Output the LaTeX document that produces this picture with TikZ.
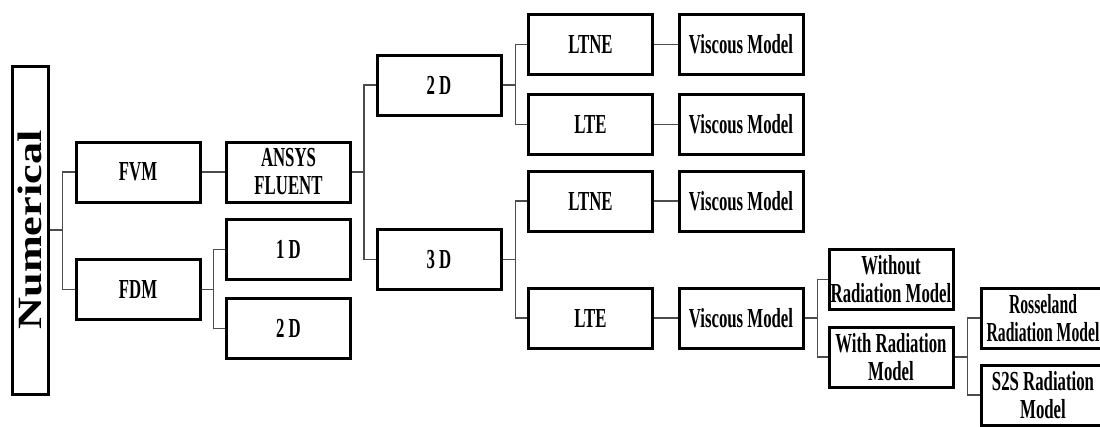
\documentclass[tikz,border=0pt]{standalone}
\usepackage{fontspec}
\setmainfont{Liberation Serif}
\newfontfamily\boxfont[FakeStretch=0.61]{Liberation Serif}
\newfontfamily\narrowfont[FakeStretch=0.57]{Liberation Serif}
\newfontfamily\numfont[FakeStretch=1.3]{Liberation Serif}
\begin{document}
\begin{tikzpicture}[x=1pt,y=-1pt,
  box/.style={draw=black, line width=3pt, minimum width=124pt, minimum height=60pt,
    inner sep=0pt, align=center, font=\boxfont\bfseries\fontsize{27.5}{28}\selectfont},
  numbox/.style={draw=black, line width=3pt, minimum width=36pt, minimum height=328pt,
    inner sep=0pt, font=\numfont\bfseries\fontsize{34}{34}\selectfont},
  conn/.style={draw=black!70, line width=1.5pt}]
\useasboundingbox (0,0) rectangle (1100,426);
\clip (0,0) rectangle (1100,426);

\node[numbox] (num) at (30,230) {\rotatebox{90}{Numerical}};

\node[box] (fvm) at (138,172) {FVM};
\node[box] (fdm) at (138,289.5) {FDM};

\node[box] (ansys) at (288.5,172) {ANSYS\\FLUENT};
\node[box] (d1) at (288.5,249.5) {1 D};
\node[box] (d2b) at (288.5,328.5) {2 D};

\node[box] (d2) at (439,85) {2 D};
\node[box] (d3) at (439,259.5) {3 D};

\node[box] (ltne1) at (590.5,44.5) {LTNE};
\node[box] (lte1) at (590.5,124.5) {LTE};
\node[box] (ltne2) at (590.5,201) {LTNE};
\node[box] (lte2) at (590.5,318) {LTE};

\node[box] (vm1) at (741,44.5) {Viscous Model};
\node[box] (vm2) at (741,124.5) {Viscous Model};
\node[box] (vm3) at (741,201) {Viscous Model};
\node[box] (vm4) at (741,318) {Viscous Model};

\node[box] (without) at (891,279.5) {Without\\Radiation Model};
\node[box] (with) at (891,357) {With Radiation\\Model};

\node[box, font=\narrowfont\bfseries\fontsize{27.5}{28}\selectfont] (ross) at (1043,318) {Rosseland\\Radiation Model};
\node[box] (s2s) at (1043,395) {S2S Radiation\\Model};

\draw[conn] (num.east) -- +(13,0) |- (fvm.west);
\draw[conn] (num.east) -- +(13,0) |- (fdm.west);

\draw[conn] (fvm.east) -- (ansys.west);
\draw[conn] (fdm.east) -- +(12,0) |- (d1.west);
\draw[conn] (fdm.east) -- +(12,0) |- (d2b.west);

\draw[conn] (ansys.east) -- +(12,0) |- (d2.west);
\draw[conn] (ansys.east) -- +(12,0) |- (d3.west);

\draw[conn] (d2.east) -- +(13,0) |- (ltne1.west);
\draw[conn] (d2.east) -- +(13,0) |- (lte1.west);
\draw[conn] (d3.east) -- +(13,0) |- (ltne2.west);
\draw[conn] (d3.east) -- +(13,0) |- (lte2.west);

\draw[conn] (ltne1.east) -- (vm1.west);
\draw[conn] (lte1.east) -- (vm2.west);
\draw[conn] (ltne2.east) -- (vm3.west);
\draw[conn] (lte2.east) -- (vm4.west);

\draw[conn] (vm4.east) -- +(13,0) |- (without.west);
\draw[conn] (vm4.east) -- +(13,0) |- (with.west);

\draw[conn] (with.east) -- +(13,0) |- (ross.west);
\draw[conn] (with.east) -- +(13,0) |- (s2s.west);
\end{tikzpicture}
\end{document}
